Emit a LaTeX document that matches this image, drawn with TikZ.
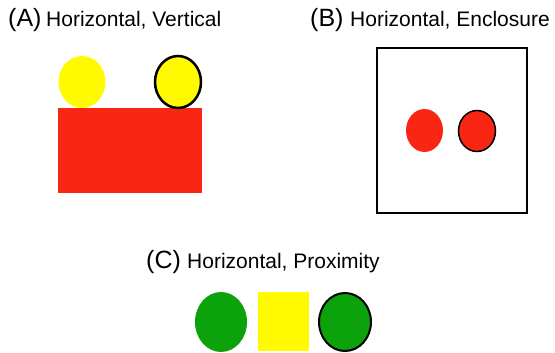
\documentclass[tikz,border=0pt]{standalone}
\usepackage{fontspec}
\setmainfont{Liberation Sans}
\usetikzlibrary{shapes.geometric}
\definecolor{boxred}{RGB}{250,38,20}
\definecolor{dotyellow}{RGB}{255,250,0}
\definecolor{dotgreen}{RGB}{12,162,12}
\begin{document}
\begin{tikzpicture}[x=1pt,y=-1pt]
        \tikzset{tag/.style = {anchor=base west,inner sep=0,font=\fontsize{25}{28}\selectfont}}
        \tikzset{caption/.style = {anchor=base west,inner sep=0,font=\fontsize{21}{25}\selectfont}}
        \tikzset{dot/.style = {ellipse,inner sep=0,outer sep=0}}
        \tikzset{block/.style = {rectangle,inner sep=0,outer sep=0}}

        \useasboundingbox (0,0) rectangle (555,353);

        % (A)
        \node[tag] (tagA) at (8,27) {(A)};
        \node[caption] (capA) at (46,27) {Horizontal, Vertical};
        \node[block,fill=boxred,minimum width=144,minimum height=85] (baseA) at (130,150.5) {};
        \node[dot,fill=dotyellow,minimum width=47,minimum height=52] (plainA) at (82,82) {};
        \node[dot,fill=dotyellow,draw,line width=2.5,minimum width=46,minimum height=52] (ringA) at (178,82) {};

        % (B)
        \node[tag] (tagB) at (310,27) {(B)};
        \node[caption] (capB) at (350,27) {Horizontal, Enclosure};
        \node[block,draw,line width=2,minimum width=150,minimum height=164] (frameB) at (451.5,130.5) {};
        \node[dot,fill=boxred,minimum width=37,minimum height=43] (plainB) at (424.5,130.5) {};
        \node[dot,fill=boxred,draw,line width=1.5,minimum width=37,minimum height=41] (ringB) at (477,131) {};

        % (C)
        \node[tag] (tagC) at (146,268) {(C)};
        \node[caption] (capC) at (187,268) {Horizontal, Proximity};
        \node[dot,fill=dotgreen,minimum width=52,minimum height=60] (plainC) at (221,322) {};
        \node[block,fill=dotyellow,minimum width=51,minimum height=59] (squareC) at (283.5,321.5) {};
        \node[dot,fill=dotgreen,draw,line width=2,minimum width=52,minimum height=58] (ringC) at (345,322) {};
    \end{tikzpicture}
\end{document}
